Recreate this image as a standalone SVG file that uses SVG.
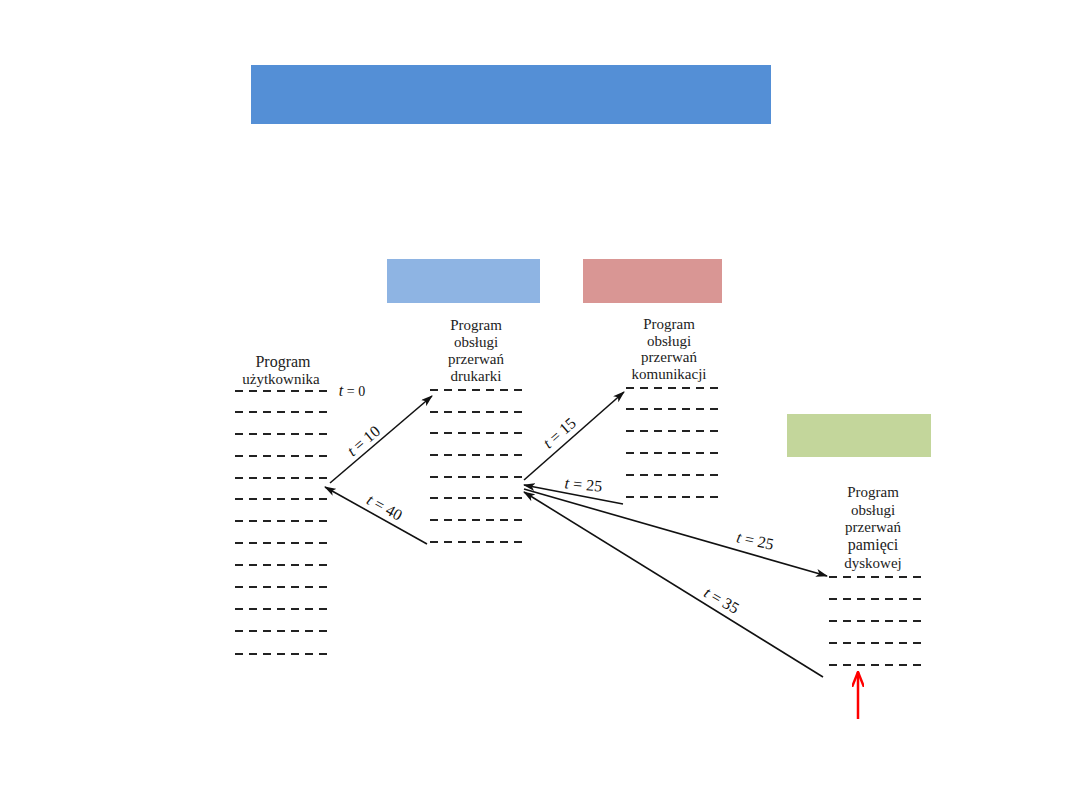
<svg xmlns="http://www.w3.org/2000/svg" width="1080" height="810" viewBox="0 0 1080 810">
<style>
.lbl{font-family:"Liberation Serif",serif;font-size:15px;fill:#222;text-anchor:middle}
.t{font-family:"Liberation Serif",serif;font-size:16px;fill:#111;text-anchor:middle}
.dash{stroke:#222;stroke-width:1.8;stroke-dasharray:8 6}
.arr{stroke:#111;stroke-width:1.6;fill:none;marker-end:url(#ah)}
</style>
<defs>
<marker id="ah" viewBox="0 0 12 8" refX="11" refY="4" markerWidth="12" markerHeight="8" markerUnits="userSpaceOnUse" orient="auto">
<path d="M0,0 L12,4 L0,8 L3,4 Z" fill="#111"/>
</marker>
<marker id="rh" viewBox="0 0 16 12" refX="15" refY="6" markerWidth="16" markerHeight="12" markerUnits="userSpaceOnUse" orient="auto">
<path d="M0,0 L15,6 L0,12" fill="none" stroke="#f00" stroke-width="2.5"/>
</marker>
</defs>
<rect width="1080" height="810" fill="#fff"/>
<rect id="banner" x="251" y="65" width="520" height="59" fill="#548FD6"/>
<rect id="box-blue" x="387" y="259" width="153" height="44" fill="#8EB4E3"/>
<rect id="box-red" x="583" y="259" width="139" height="44" fill="#D99694"/>
<rect id="box-green" x="787" y="414" width="144" height="43" fill="#C3D69B"/>

<g id="user-program">
<text class="lbl" x="283" y="367" style="font-size:16px">Program</text>
<text class="lbl" x="281" y="384">użytkownika</text>
<g class="dash">
<line x1="235" y1="391" x2="330" y2="391"/>
<line x1="235" y1="412" x2="330" y2="412"/>
<line x1="235" y1="434" x2="330" y2="434"/>
<line x1="235" y1="456" x2="330" y2="456"/>
<line x1="235" y1="478" x2="330" y2="478"/>
<line x1="235" y1="499" x2="330" y2="499"/>
<line x1="235" y1="521" x2="330" y2="521"/>
<line x1="235" y1="543" x2="330" y2="543"/>
<line x1="235" y1="565" x2="330" y2="565"/>
<line x1="235" y1="587" x2="330" y2="587"/>
<line x1="235" y1="609" x2="330" y2="609"/>
<line x1="235" y1="631" x2="330" y2="631"/>
<line x1="235" y1="654" x2="330" y2="654"/>
</g>
<text class="t" x="352" y="396" style="font-size:14px"><tspan font-style="italic" font-size="16">t</tspan> = 0</text>
</g>

<g id="printer-handler">
<text class="lbl" x="476" y="330">Program</text>
<text class="lbl" x="476" y="347">obsługi</text>
<text class="lbl" x="476" y="364">przerwań</text>
<text class="lbl" x="476" y="381">drukarki</text>
<g class="dash">
<line x1="430" y1="390" x2="524" y2="390"/>
<line x1="430" y1="412" x2="524" y2="412"/>
<line x1="430" y1="433" x2="524" y2="433"/>
<line x1="430" y1="455" x2="524" y2="455"/>
<line x1="430" y1="477" x2="524" y2="477"/>
<line x1="430" y1="498" x2="524" y2="498"/>
<line x1="430" y1="520" x2="524" y2="520"/>
<line x1="430" y1="542" x2="524" y2="542"/>
</g>
</g>

<g id="comm-handler">
<text class="lbl" x="669" y="329">Program</text>
<text class="lbl" x="669" y="346">obsługi</text>
<text class="lbl" x="669" y="362">przerwań</text>
<text class="lbl" x="669" y="379">komunikacji</text>
<g class="dash">
<line x1="626" y1="388" x2="718" y2="388"/>
<line x1="626" y1="409" x2="718" y2="409"/>
<line x1="626" y1="431" x2="718" y2="431"/>
<line x1="626" y1="453" x2="718" y2="453"/>
<line x1="626" y1="475" x2="718" y2="475"/>
<line x1="626" y1="497" x2="718" y2="497"/>
</g>
</g>

<g id="disk-handler">
<text class="lbl" x="873" y="497">Program</text>
<text class="lbl" x="873" y="515">obsługi</text>
<text class="lbl" x="873" y="532">przerwań</text>
<text class="lbl" x="873" y="550" style="font-size:16px">pamięci</text>
<text class="lbl" x="873" y="568">dyskowej</text>
<g class="dash">
<line x1="829" y1="577" x2="922" y2="577"/>
<line x1="829" y1="599" x2="922" y2="599"/>
<line x1="829" y1="621" x2="922" y2="621"/>
<line x1="829" y1="643" x2="922" y2="643"/>
<line x1="829" y1="665" x2="922" y2="665"/>
</g>
</g>

<g id="connectors">
<line class="arr" x1="330" y1="483" x2="432" y2="396"/>
<line class="arr" x1="427" y1="544" x2="325" y2="487"/>
<line class="arr" x1="524" y1="480" x2="624" y2="392"/>
<line class="arr" x1="623" y1="504" x2="524" y2="485"/>
<line class="arr" x1="524" y1="489" x2="827" y2="576"/>
<line class="arr" x1="823" y1="677" x2="524" y2="492"/>
<line x1="858" y1="719" x2="858" y2="672" stroke="#f00" stroke-width="2.5" marker-end="url(#rh)"/>
<text class="t" transform="translate(367,445) rotate(-40)"><tspan font-style="italic">t</tspan> = 10</text>
<text class="t" transform="translate(382,512) rotate(29)"><tspan font-style="italic">t</tspan> = 40</text>
<text class="t" transform="translate(563,437) rotate(-41)"><tspan font-style="italic">t</tspan> = 15</text>
<text class="t" transform="translate(583,490) rotate(5)"><tspan font-style="italic">t</tspan> = 25</text>
<text class="t" transform="translate(754,546) rotate(12)"><tspan font-style="italic">t</tspan> = 25</text>
<text class="t" transform="translate(719,605) rotate(30)"><tspan font-style="italic">t</tspan> = 35</text>
</g>
</svg>
